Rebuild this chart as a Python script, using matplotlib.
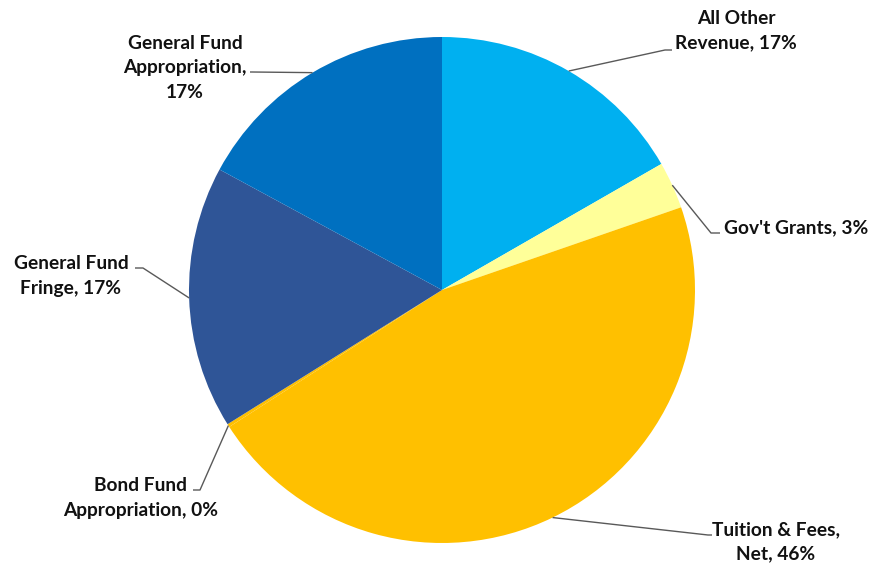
import matplotlib
matplotlib.use("Agg")
import matplotlib.pyplot as plt
import numpy as np

categories = ["All Other Revenue", "Gov't Grants", "Tuition & Fees, Net",
              "Bond Fund Appropriation", "General Fund Fringe", "General Fund Appropriation"]
values = [16.7, 3.0, 46.2, 0.2, 16.8, 17.1]
pct_labels = ["17%", "3%", "46%", "0%", "17%", "17%"]
label_texts = ["All Other\nRevenue, 17%", "Gov't Grants, 3%", "Tuition & Fees,\nNet, 46%",
               "Bond Fund\nAppropriation, 0%", "General Fund\nFringe, 17%",
               "General Fund\nAppropriation,\n17%"]
colors = ["#00B0F0", "#FFFF99", "#FFC000", "#FFC000", "#2F5597", "#0070C0"]

W, H = 873, 565
fig = plt.figure(figsize=(W / 100, H / 100), dpi=100)
ax = fig.add_axes([0, 0, 1, 1])

cx, cy, R = 442, H - 290, 253
wedges, _ = ax.pie(values, colors=colors, startangle=90, counterclock=False,
                   radius=R, center=(cx, cy), frame=True,
                   wedgeprops=dict(linewidth=0))
ax.set_xlim(0, W)
ax.set_ylim(0, H)
ax.set_aspect("equal")
ax.axis("off")

# layout: (elbow x, elbow y, end x, end y, text x, text y, ha) in pixel coords (y from top)
layout = [
    (665, 50, 672, 50, 736, 31, "center"),
    (711, 233, 720, 233, 724, 228, "left"),
    (708, 535, 712, 535, 776, 542, "center"),
    (200, 490, 193, 490, 141, 498, "center"),
    (143, 268, 135, 268, 71, 276, "center"),
    (252, 72, 250, 72, 185, 68, "center"),
]

for w, txt, (ex, ey, tx, ty, lx, ly, ha) in zip(wedges, label_texts, layout):
    mid = np.deg2rad((w.theta1 + w.theta2) / 2)
    ax0 = cx + R * np.cos(mid)
    ay0 = cy + R * np.sin(mid)
    ax.plot([ax0, ex, tx], [ay0, H - ey, H - ty], color="#595959", lw=1.0,
            solid_capstyle="butt")
    ax.text(lx, H - ly, txt, ha=ha, va="center", fontsize=13.8,
            fontweight="bold", family=["Lato", "DejaVu Sans"], color="#111111",
            linespacing=1.52)

fig.savefig("out.png", dpi=100)
